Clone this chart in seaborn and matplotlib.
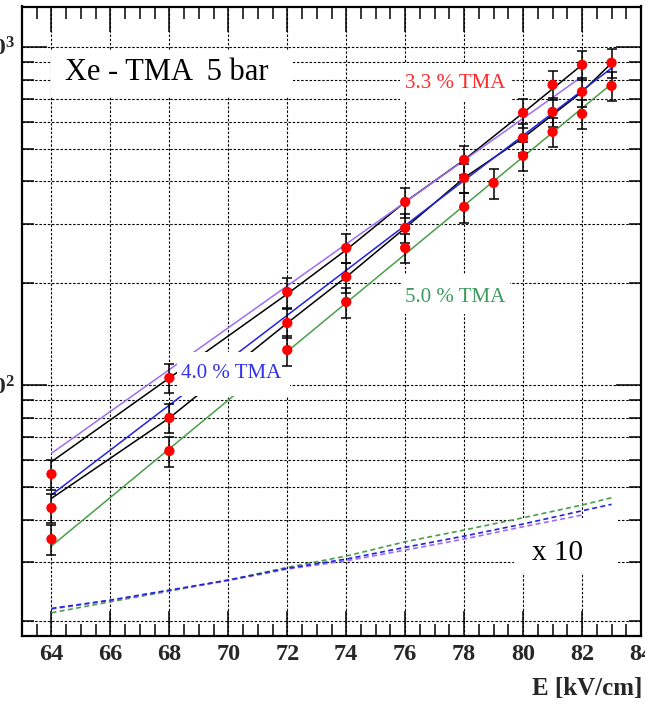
import matplotlib
matplotlib.use("Agg")
import matplotlib.pyplot as plt
from matplotlib.patches import Rectangle
from matplotlib.ticker import MultipleLocator, LogLocator, FixedLocator, NullFormatter, FixedFormatter
import pandas as pd
import seaborn as sns

# ---- measured gain (E in kV/cm) ----
e_33 = [64, 68, 72, 74, 76, 78, 80, 81, 82]
g_33 = [54.5, 104.9, 188.4, 254.3, 347.8, 463.2, 637.8, 771.9, 884.6]
err_33 = [5.5, 10.5, 19, 25, 35, 46, 64, 77, 88]

e_40 = [64, 68, 72, 74, 76, 78, 80, 81, 82, 83]
g_40 = [43.3, 79.9, 152.5, 208.7, 291.4, 409.8, 538.0, 642.2, 735.9, 896.9]
err_40 = [4.3, 8.0, 15, 21, 29, 41, 54, 64, 74, 90]

e_50 = [64, 68, 72, 74, 76, 78, 79, 80, 81, 82, 83]
g_50 = [35.0, 63.8, 126.9, 176.0, 254.3, 336.2, 395.9, 476.0, 560.4, 633.6, 766.6]
err_50 = [3.5, 6.4, 13, 18, 25, 34, 40, 48, 56, 63, 77]

# ---- exponential fits (coloured) ----
fit_e_33 = [64, 82]
fit_g_33 = [62.8, 816.7]
fit_e_40 = [64, 83]
fit_g_40 = [47.3, 865.0]
fit_e_50 = [64, 83]
fit_g_50 = [33.4, 777.0]

# ---- black reference curves ----
ref_e_33 = [64, 68, 72, 74, 76, 78, 80, 82]
ref_g_33 = [59.3, 104.9, 185.9, 250.9, 347.8, 463.2, 637.8, 884.6]
ref_e_40 = [64, 68, 72, 74, 76, 78, 80, 82, 83]
ref_g_40 = [46.2, 79.9, 152.5, 208.7, 291.4, 409.8, 538.0, 735.9, 895.0]

# ---- scaled (x 10) curves ----
sc_e = [64, 66, 68, 70, 72, 74, 76, 78, 80, 82, 83]
sc_50 = [21.2, 22.85, 24.57, 26.49, 28.88, 31.19, 34.39, 37.24, 40.49, 44.16, 46.4]
sc_40 = [21.84, 23.11, 24.74, 26.49, 28.69, 30.56, 33.10, 35.74, 38.80, 42.46, 44.36]
sc_e_33 = [64, 66, 68, 70, 72, 74, 76, 78, 80, 82]
sc_33 = [21.74, 23.07, 24.66, 26.4, 28.55, 30.2, 32.49, 35.03, 38.09, 41.24]

x_ticks = [64, 66, 68, 70, 72, 74, 76, 78, 80, 82, 84]
y_ticks = [100, 1000]
y_tick_labels = [r"$\mathbf{10^{2}}$", r"$\mathbf{10^{3}}$"]

sns.set_theme(style="ticks")
plt.rcParams["font.family"] = ["Liberation Serif", "DejaVu Serif"]
plt.rcParams["mathtext.fontset"] = "custom"
plt.rcParams["mathtext.rm"] = "Liberation Serif"
plt.rcParams["mathtext.bf"] = "Liberation Serif:bold"

RED = "#ff0000"
PURPLE = "#a06cf5"
BLUE = "#2222e0"
GREEN = "#4a9e4a"

W, H = 645, 705
fig = plt.figure(figsize=(W / 100, H / 100), dpi=100)
fig.patch.set_facecolor("white")
ax = fig.add_axes([22 / W, 1 - 636 / H, 619 / W, 629.5 / H])
ax.set_facecolor("white")
ax.set_yscale("log")
ax.set_xlim(63, 84)
ax.set_ylim(18.1, 1316)

# grid
ax.set_axisbelow(True)
ax.xaxis.set_major_locator(FixedLocator(x_ticks))
ax.xaxis.set_minor_locator(MultipleLocator(0.5))
ax.yaxis.set_major_locator(FixedLocator(y_ticks))
ax.yaxis.set_minor_locator(LogLocator(base=10, subs=[2, 3, 4, 5, 6, 7, 8, 9]))
ax.yaxis.set_major_formatter(FixedFormatter(y_tick_labels))
ax.yaxis.set_minor_formatter(NullFormatter())
grid_kw = dict(color="black", linestyle=(0, (2.2, 1.6)), linewidth=0.8)
ax.grid(True, axis="x", which="major", **grid_kw)
ax.grid(True, axis="y", which="both", **grid_kw)


def box(x0, y0, x1, y1, z):
    """White pane given in pixel coordinates of the frame."""
    fx0 = (x0 - 22) / 619
    fx1 = (x1 - 22) / 619
    fy0 = (636 - y1) / 629.5
    fy1 = (636 - y0) / 629.5
    ax.add_patch(Rectangle((fx0, fy0), fx1 - fx0, fy1 - fy0, transform=ax.transAxes,
                           facecolor="white", edgecolor="none", zorder=z))


def px(x, y):
    return ((x - 22) / 619, (636 - y) / 629.5)


# panes under the curves
box(51, 50, 293, 96, 1.5)
box(400, 63, 512, 101, 1.5)
box(402, 274, 510, 314, 1.5)
box(514, 518, 618, 573, 1.5)

# scaled dashed curves
dash = (0, (3.0, 2.0))
sns.lineplot(x=sc_e, y=sc_50, ax=ax, color=GREEN, lw=1.2, linestyle=dash, zorder=3)
sns.lineplot(x=sc_e_33, y=sc_33, ax=ax, color=PURPLE, lw=1.2, linestyle=dash, zorder=3)
sns.lineplot(x=sc_e, y=sc_40, ax=ax, color=BLUE, lw=1.2, linestyle=dash, zorder=3)

# black curves and coloured fits
sns.lineplot(x=ref_e_33, y=ref_g_33, ax=ax, color="black", lw=1.1, zorder=3)
sns.lineplot(x=ref_e_40, y=ref_g_40, ax=ax, color="black", lw=1.1, zorder=3)
sns.lineplot(x=fit_e_33, y=fit_g_33, ax=ax, color=PURPLE, lw=1.1, zorder=3.2)
sns.lineplot(x=fit_e_40, y=fit_g_40, ax=ax, color=BLUE, lw=1.1, zorder=3.2)
sns.lineplot(x=fit_e_50, y=fit_g_50, ax=ax, color=GREEN, lw=1.1, zorder=3.2)

# pane that sits over the curves
box(177, 352, 290, 396, 4)

# data points with errors
pts = pd.concat([
    pd.DataFrame({"E": e_33, "G": g_33, "err": err_33}),
    pd.DataFrame({"E": e_40, "G": g_40, "err": err_40}),
    pd.DataFrame({"E": e_50, "G": g_50, "err": err_50}),
], ignore_index=True)
ax.errorbar(pts["E"], pts["G"], yerr=pts["err"], fmt="none", ecolor="black",
            elinewidth=1.1, capsize=3.5, capthick=1.1, zorder=5)
sns.scatterplot(data=pts, x="E", y="G", ax=ax, color=RED, s=55, edgecolor="none",
                zorder=6, legend=False)

# labels
ax.text(*px(65, 73), "Xe - TMA  5 bar", transform=ax.transAxes, fontsize=22,
        ha="left", va="center", color="black", zorder=7)
ax.text(*px(455, 84), "3.3 % TMA", transform=ax.transAxes, fontsize=15,
        ha="center", va="center", color="#ff2a2a", zorder=7)
ax.text(*px(231, 374), "4.0 % TMA", transform=ax.transAxes, fontsize=15,
        ha="center", va="center", color="#3030f0", zorder=7)
ax.text(*px(455, 297), "5.0 % TMA", transform=ax.transAxes, fontsize=15,
        ha="center", va="center", color="#3c9a5c", zorder=7)
ax.text(*px(557, 553), "x 10", transform=ax.transAxes, fontsize=21,
        ha="center", va="center", color="black", zorder=7)

# axes styling
for s in ax.spines.values():
    s.set_linewidth(1.6)
    s.set_color("black")
    s.set_zorder(8)
ax.tick_params(axis="both", which="both", direction="in", top=True, right=True,
               color="black", width=1.1)
ax.tick_params(axis="both", which="major", length=18)
ax.tick_params(axis="both", which="minor", length=8.3)
ax.tick_params(axis="x", which="major", pad=6, labelsize=17.5)
ax.tick_params(axis="y", which="major", pad=4.5, labelsize=17)
for lab in ax.get_xticklabels():
    lab.set_fontweight("bold")
ax.set_xlabel("")
ax.set_ylabel("")
fig.text(642 / W, 1 - 688 / H, "E [kV/cm]", fontsize=18, fontweight="bold",
         ha="right", va="center")

fig.savefig("out.png", dpi=100, facecolor="white")
